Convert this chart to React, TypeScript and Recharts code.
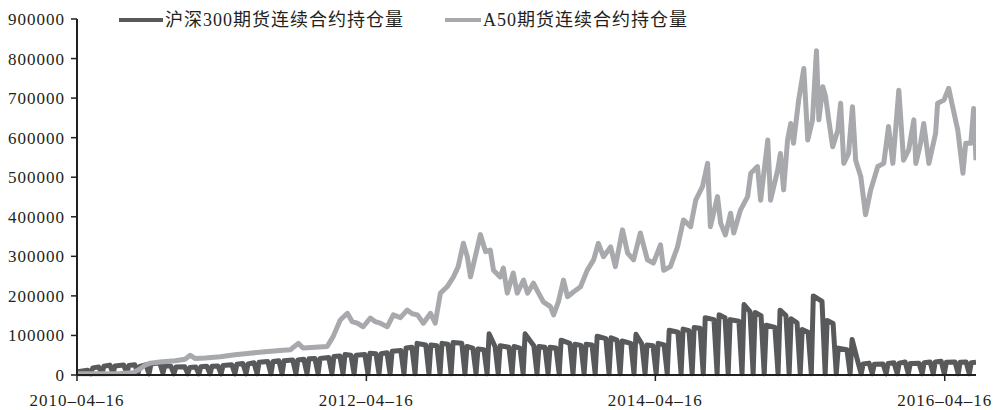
import { Legend, Line, LineChart, XAxis, YAxis } from "recharts"

const FONT = '"Liberation Serif", "Noto Sans CJK SC", serif'
const DARK = "#58595b"
const LIGHT = "#a7a9ac"

const START = "2010-04-16"
const END = "2016-07-04"

const xTickDates = ["2010-04-16", "2012-04-16", "2014-04-16", "2016-04-16"]
const yTicks = [0, 100000, 200000, 300000, 400000, 500000, 600000, 700000, 800000, 900000]

const seriesNames = ["沪深300期货连续合约持仓量", "A50期货连续合约持仓量"]

// 沪深300 current-month contract: expiry (third Friday) of each month
const hsExpiry = [
  "2010-05-21", "2010-06-18", "2010-07-16", "2010-08-20", "2010-09-17", "2010-10-15", "2010-11-19", "2010-12-17",
  "2011-01-21", "2011-02-18", "2011-03-18", "2011-04-15", "2011-05-20", "2011-06-17", "2011-07-15", "2011-08-19",
  "2011-09-16", "2011-10-21", "2011-11-18", "2011-12-16",
  "2012-01-20", "2012-02-17", "2012-03-16", "2012-04-20", "2012-05-18", "2012-06-15", "2012-07-20", "2012-08-17",
  "2012-09-21", "2012-10-19", "2012-11-16", "2012-12-21",
  "2013-01-18", "2013-02-15", "2013-03-15", "2013-04-19", "2013-05-17", "2013-06-21", "2013-07-19", "2013-08-16",
  "2013-09-20", "2013-10-18", "2013-11-15", "2013-12-20",
  "2014-01-17", "2014-02-21", "2014-03-21", "2014-04-18", "2014-05-16", "2014-06-20", "2014-07-18", "2014-08-15",
  "2014-09-19", "2014-10-17", "2014-11-21", "2014-12-19",
  "2015-01-16", "2015-02-20", "2015-03-20", "2015-04-17", "2015-05-15", "2015-06-19", "2015-07-17", "2015-08-21",
  "2015-09-18", "2015-10-16", "2015-11-20", "2015-12-18",
  "2016-01-15", "2016-02-19", "2016-03-18", "2016-04-15", "2016-05-20", "2016-06-17", "2016-07-15",
]

// open interest just after the roll
const hsRise = [
  8000, 18000, 22000, 23000, 24000, 22000, 28000, 24000,
  20000, 19000, 21000, 22000, 24000, 27000, 28000, 32000,
  34000, 36000, 38000, 41000,
  42000, 47000, 52000, 50000, 55000, 54000, 60000, 68000,
  80000, 76000, 80000, 82000,
  72000, 66000, 104000, 74000, 72000, 104000, 72000, 70000,
  88000, 78000, 78000, 98000,
  94000, 86000, 103000, 76000, 80000, 113000, 116000, 120000,
  145000, 152000, 140000, 178000,
  158000, 126000, 164000, 142000, 115000, 200000, 138000, 68000,
  90000, 28000, 27000, 29000,
  30000, 29000, 31000, 33000, 32000, 32000, 31000,
]

// open interest a week before expiry
const hsTop = [
  12000, 20000, 25000, 25000, 26000, 26000, 31000, 22000,
  21000, 20000, 22000, 23000, 26000, 29000, 31000, 34000,
  36000, 38000, 40000, 42000,
  44000, 48000, 50000, 52000, 54000, 56000, 62000, 70000,
  76000, 74000, 78000, 80000,
  68000, 64000, 72000, 70000, 68000, 74000, 70000, 68000,
  80000, 75000, 76000, 92000,
  88000, 80000, 78000, 74000, 76000, 108000, 112000, 118000,
  140000, 145000, 136000, 160000,
  150000, 120000, 150000, 132000, 108000, 186000, 130000, 64000,
  32000, 30000, 28000, 31000,
  33000, 30000, 33000, 35000, 33000, 33000, 32000,
]

// open interest on expiry day
const hsLow = [
  3000, 4000, 4000, 4000, 4000, 3000, 5000, 3000,
  3000, 3000, 3000, 3000, 3000, 3000, 3000, 3000,
  3000, 3000, 3000, 3000,
  3000, 3000, 3000, 3000, 3000, 3000, 3000, 3000,
  3000, 3000, 3000, 3000,
  3000, 3000, 3000, 3000, 3000, 3000, 3000, 3000,
  3000, 3000, 3000, 3000,
  3000, 3000, 3000, 3000, 3000, 3000, 3000, 3000,
  3000, 3000, 3000, 3000,
  3000, 3000, 3000, 3000, 3000, 3000, 3000, 3000,
  3000, 3000, 3000, 3000,
  3000, 3000, 3000, 3000, 3000, 3000, 3000,
]

// A50 open interest
const a50Dates = [
  "2010-04-16", "2010-06-13", "2010-08-03", "2010-09-05", "2010-09-22", "2010-10-05", "2010-10-18", "2010-11-12",
  "2010-12-20", "2011-01-14", "2011-01-27", "2011-02-08", "2011-03-06", "2011-04-13", "2011-05-20", "2011-06-27",
  "2011-08-04", "2011-09-11", "2011-10-07", "2011-10-27", "2011-11-08", "2011-12-09", "2012-01-08", "2012-01-23",
  "2012-02-10", "2012-02-28", "2012-03-11", "2012-03-24", "2012-04-08", "2012-04-26", "2012-05-08", "2012-05-21",
  "2012-06-08", "2012-06-23", "2012-07-11", "2012-07-28", "2012-08-10", "2012-08-23", "2012-09-07", "2012-09-25",
  "2012-10-07", "2012-10-20", "2012-11-06", "2012-11-22", "2012-12-04", "2012-12-17", "2012-12-27", "2013-01-04",
  "2013-01-16", "2013-01-29", "2013-02-11", "2013-02-23", "2013-03-03", "2013-03-20", "2013-03-28", "2013-04-07",
  "2013-04-22", "2013-05-02", "2013-05-18", "2013-05-28", "2013-06-12", "2013-06-25", "2013-07-07", "2013-07-25",
  "2013-08-02", "2013-08-14", "2013-08-27", "2013-09-06", "2013-09-21", "2013-10-09", "2013-10-26", "2013-11-11",
  "2013-11-23", "2013-12-06", "2013-12-24", "2014-01-05", "2014-01-23", "2014-02-05", "2014-02-20", "2014-03-09",
  "2014-03-27", "2014-04-11", "2014-04-29", "2014-05-07", "2014-05-24", "2014-06-11", "2014-06-26", "2014-07-14",
  "2014-07-27", "2014-08-13", "2014-08-26", "2014-09-02", "2014-09-20", "2014-09-28", "2014-10-10", "2014-10-23",
  "2014-10-31", "2014-11-17", "2014-12-05", "2014-12-13", "2014-12-30", "2015-01-07", "2015-01-25", "2015-02-01",
  "2015-02-19", "2015-02-26", "2015-03-06", "2015-03-16", "2015-03-24", "2015-03-31", "2015-04-13", "2015-04-26",
  "2015-05-06", "2015-05-18", "2015-05-28", "2015-06-03", "2015-06-13", "2015-06-20", "2015-06-28", "2015-07-08",
  "2015-07-21", "2015-07-28", "2015-08-05", "2015-08-17", "2015-08-27", "2015-09-04", "2015-09-17", "2015-09-29",
  "2015-10-12", "2015-10-30", "2015-11-14", "2015-11-26", "2015-12-07", "2015-12-22", "2016-01-03", "2016-01-16",
  "2016-01-29", "2016-02-03", "2016-02-15", "2016-02-23", "2016-03-07", "2016-03-24", "2016-03-29", "2016-04-14",
  "2016-04-26", "2016-05-06", "2016-05-19", "2016-06-01", "2016-06-08", "2016-06-21", "2016-06-28", "2016-07-04",
]

const a50Values = [
  3000, 3000, 4000, 6000, 15000, 25000, 30000, 33000,
  36000, 40000, 50000, 42000, 43000, 46000, 51000, 55000,
  59000, 62000, 64000, 80000, 68000, 70000, 72000, 97000,
  139000, 156000, 135000, 131000, 122000, 144000, 135000, 131000,
  122000, 152000, 145000, 164000, 155000, 152000, 131000, 156000,
  131000, 207000, 223000, 248000, 274000, 333000, 299000, 248000,
  299000, 355000, 312000, 316000, 265000, 248000, 270000, 207000,
  258000, 207000, 240000, 207000, 232000, 207000, 185000, 173000,
  152000, 185000, 240000, 198000, 210000, 223000, 265000, 291000,
  333000, 299000, 324000, 274000, 367000, 308000, 291000, 359000,
  291000, 283000, 329000, 265000, 274000, 324000, 392000, 375000,
  442000, 476000, 535000, 375000, 451000, 384000, 354000, 409000,
  359000, 417000, 451000, 510000, 527000, 442000, 594000, 442000,
  518000, 560000, 468000, 594000, 636000, 586000, 695000, 775000,
  594000, 645000, 820000, 645000, 729000, 704000, 645000, 577000,
  619000, 687000, 535000, 560000, 678000, 543000, 501000, 405000,
  468000, 527000, 535000, 628000, 535000, 720000, 543000, 569000,
  645000, 535000, 586000, 636000, 535000, 611000, 687000, 695000,
  725000, 678000, 619000, 510000, 586000, 586000, 674000, 543000,
]

const DAY = 86400000
const toT = (s: string) => Date.parse(s + "T00:00:00Z")
const T0 = toT(START)
const T1 = toT(END)

const hsData: { t: number; v: number }[] = [{ t: T0, v: hsRise[0] }]
hsExpiry.forEach((e, i) => {
  const te = toT(e)
  if (i > 0) hsData.push({ t: toT(hsExpiry[i - 1]) + 5 * DAY, v: hsRise[i] })
  if (te > T1) {
    hsData.push({ t: T1, v: hsTop[i] })
    return
  }
  hsData.push({ t: te - 8 * DAY, v: hsTop[i] })
  hsData.push({ t: te, v: hsLow[i] })
})

const a50Data = a50Dates.map((d, i) => ({ t: toT(d), v: a50Values[i] }))

const xTicks = xTickDates.map(toT)

function fmtDate(t: number) {
  const d = new Date(t)
  const mm = String(d.getUTCMonth() + 1).padStart(2, "0")
  const dd = String(d.getUTCDate()).padStart(2, "0")
  return `${d.getUTCFullYear()}–${mm}–${dd}`
}

function XTick(props: any) {
  const { x, payload } = props
  return (
    <text x={x} y={406} textAnchor="middle" fontFamily={FONT} fontSize={17} letterSpacing={1} fill="#231f20">
      {fmtDate(payload.value)}
    </text>
  )
}

function YTick(props: any) {
  const { y, payload } = props
  return (
    <text x={65} y={y + 6} textAnchor="end" fontFamily={FONT} fontSize={17} letterSpacing={1} fill="#231f20">
      {payload.value}
    </text>
  )
}

function renderLegend() {
  const items = [
    { name: seriesNames[0], color: DARK, x1: 119, x2: 163 },
    { name: seriesNames[1], color: LIGHT, x1: 445, x2: 481 },
  ]
  return (
    <div style={{ position: "relative", width: 997, height: 40 }}>
      {items.map((it) => (
        <div key={it.name}>
          <div
            style={{
              position: "absolute",
              left: it.x1,
              top: 18,
              width: it.x2 - it.x1,
              height: 4,
              background: it.color,
            }}
          />
          <span
            style={{
              position: "absolute",
              left: it.x2 + 2,
              top: 8,
              fontFamily: FONT,
              fontSize: 18,
              letterSpacing: 1,
              lineHeight: "24px",
              color: "#231f20",
              whiteSpace: "nowrap",
            }}
          >
            {it.name}
          </span>
        </div>
      ))}
    </div>
  )
}

export default function App() {
  return (
    <div style={{ position: "absolute", left: 0, top: 0, width: 997, height: 410, background: "#fff" }}>
      <LineChart width={997} height={410} margin={{ top: 19, right: 21, bottom: 0, left: 0 }}>
        <XAxis
          type="number"
          dataKey="t"
          domain={[T0, T1]}
          ticks={xTicks}
          allowDataOverflow
          height={35}
          tickSize={6}
          axisLine={{ stroke: "#231f20", strokeWidth: 2 }}
          tickLine={{ stroke: "#231f20", strokeWidth: 1.5 }}
          tick={<XTick />}
        />
        <YAxis
          type="number"
          domain={[0, 900000]}
          ticks={yTicks}
          width={77}
          tickSize={6}
          axisLine={{ stroke: "#231f20", strokeWidth: 2 }}
          tickLine={{ stroke: "#231f20", strokeWidth: 1.5 }}
          tick={<YTick />}
        />
        <Legend
          layout="vertical"
          align="center"
          verticalAlign="middle"
          wrapperStyle={{ top: 0, left: 0, width: 997, height: 40 }}
          content={renderLegend}
        />
        <Line
          data={hsData}
          dataKey="v"
          name={seriesNames[0]}
          stroke={DARK}
          strokeWidth={5}
          strokeLinejoin="round"
          dot={false}
          isAnimationActive={false}
        />
        <Line
          data={a50Data}
          dataKey="v"
          name={seriesNames[1]}
          stroke={LIGHT}
          strokeWidth={5}
          strokeLinejoin="round"
          dot={false}
          isAnimationActive={false}
        />
      </LineChart>
    </div>
  )
}
